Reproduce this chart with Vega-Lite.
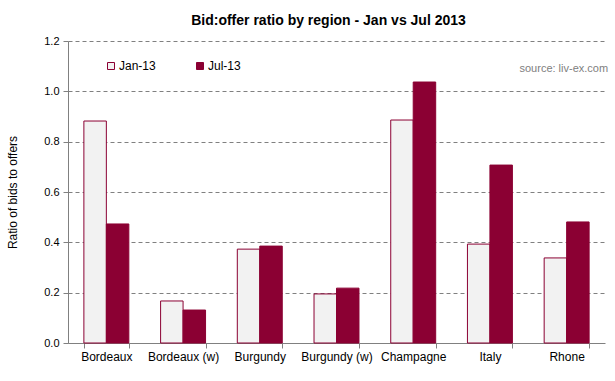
{
  "$schema": "https://vega.github.io/schema/vega-lite/v6.json",
  "width": 537,
  "height": 302,
  "autosize": {"type": "none"},
  "padding": {"left": 68, "top": 41, "right": 10, "bottom": 38},
  "background": "white",
  "config": {
    "font": "Liberation Sans",
    "view": {"stroke": null}
  },
  "title": {
    "text": "Bid:offer ratio by region - Jan vs Jul 2013",
    "fontSize": 14,
    "fontWeight": "bold",
    "font": "Liberation Sans",
    "color": "#000000",
    "anchor": "middle",
    "offset": 7,
    "dx": -8
  },
  "datasets": {
    "bars": [
      {"region": "Bordeaux", "period": "Jan-13", "ratio": 0.882},
      {"region": "Bordeaux", "period": "Jul-13", "ratio": 0.473},
      {"region": "Bordeaux (w)", "period": "Jan-13", "ratio": 0.167},
      {"region": "Bordeaux (w)", "period": "Jul-13", "ratio": 0.131},
      {"region": "Burgundy", "period": "Jan-13", "ratio": 0.373},
      {"region": "Burgundy", "period": "Jul-13", "ratio": 0.385},
      {"region": "Burgundy (w)", "period": "Jan-13", "ratio": 0.195},
      {"region": "Burgundy (w)", "period": "Jul-13", "ratio": 0.218},
      {"region": "Champagne", "period": "Jan-13", "ratio": 0.886},
      {"region": "Champagne", "period": "Jul-13", "ratio": 1.037},
      {"region": "Italy", "period": "Jan-13", "ratio": 0.393},
      {"region": "Italy", "period": "Jul-13", "ratio": 0.707},
      {"region": "Rhone", "period": "Jan-13", "ratio": 0.338},
      {"region": "Rhone", "period": "Jul-13", "ratio": 0.481}
    ],
    "note": [{"region": "Rhone", "ratio": 1.09, "label": "source: liv-ex.com"}]
  },
  "layer": [
    {
      "data": {"name": "bars"},
      "mark": {"type": "bar", "stroke": "#8b0033", "strokeWidth": 1},
      "encoding": {
        "x": {
          "field": "region",
          "type": "nominal",
          "sort": null,
          "scale": {"paddingInner": 0.414, "paddingOuter": 0.207},
          "axis": {
            "title": null,
            "labelAngle": 0,
            "labelFontSize": 12,
            "labelColor": "#000000",
            "labelPadding": 3,
            "tickBand": "extent",
            "tickColor": "#808080",
            "tickSize": 5,
            "domainColor": "#808080",
            "grid": false
          }
        },
        "xOffset": {"field": "period", "type": "nominal", "sort": ["Jan-13", "Jul-13"]},
        "y": {
          "field": "ratio",
          "type": "quantitative",
          "scale": {"domain": [0, 1.2], "nice": false},
          "axis": {
            "title": "Ratio of bids to offers",
            "titleFontSize": 12,
            "titleFontWeight": "normal",
            "titleColor": "#000000",
            "titlePadding": 24,
            "values": [0, 0.2, 0.4, 0.6, 0.8, 1.0, 1.2],
            "format": ".1f",
            "labelFontSize": 11,
            "labelColor": "#000000",
            "labelPadding": 4,
            "tickColor": "#808080",
            "tickSize": 5,
            "domainColor": "#808080",
            "grid": true,
            "gridColor": "#808080",
            "gridDash": [4, 3],
            "gridWidth": 1
          }
        },
        "fill": {
          "field": "period",
          "type": "nominal",
          "scale": {"domain": ["Jan-13", "Jul-13"], "range": ["#f2f2f2", "#8b0033"]},
          "legend": {
            "title": null,
            "orient": "none",
            "legendX": 37,
            "legendY": 19,
            "direction": "horizontal",
            "symbolType": "square",
            "symbolSize": 49,
            "symbolStrokeColor": "#8b0033",
            "symbolStrokeWidth": 1,
            "labelFontSize": 12,
            "labelColor": "#000000",
            "labelOffset": 2,
            "columnPadding": 38,
            "padding": 0
          }
        }
      }
    },
    {
      "data": {"name": "note"},
      "mark": {"type": "text", "align": "right", "baseline": "middle", "fontSize": 11, "color": "#808080", "dx": 19},
      "encoding": {
        "x": {"field": "region", "type": "nominal", "bandPosition": 1},
        "y": {"field": "ratio", "type": "quantitative"},
        "text": {"field": "label"}
      }
    }
  ]
}
